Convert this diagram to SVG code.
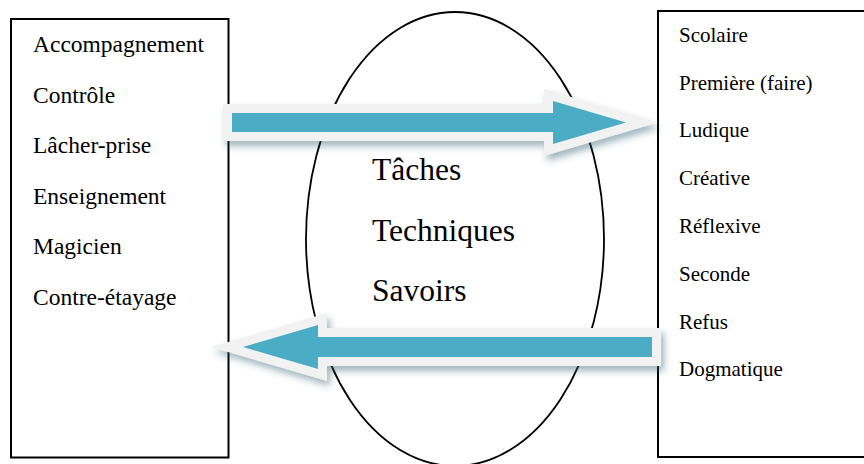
<svg xmlns="http://www.w3.org/2000/svg" width="864" height="464" viewBox="0 0 864 464">
<defs>
<style>
.box{fill:#fff;stroke:#000;stroke-width:2}
.ell{fill:#fff;stroke:#000;stroke-width:1.8}
.t{font-family:"Liberation Serif","Times New Roman",serif;fill:#000}
.l{font-size:23.5px}
.r{font-size:21px}
.c{font-size:31.5px}
.arrow{fill:#4BACC6;stroke:#F2F2F2;stroke-width:18;stroke-linejoin:miter;stroke-miterlimit:6;paint-order:stroke;filter:url(#sh)}
</style>
<filter id="sh" x="-10%" y="-60%" width="125%" height="220%">
<feDropShadow dx="3" dy="5" stdDeviation="3.5" flood-color="#2f5f70" flood-opacity="0.45"/>
</filter>
</defs>
<g id="left-box">
<rect class="box" x="11" y="19" width="217.5" height="438.5"/>
<text class="t l" x="33" y="52">Accompagnement</text>
<text class="t l" x="33" y="102.5">Contrôle</text>
<text class="t l" x="33" y="153">Lâcher-prise</text>
<text class="t l" x="33" y="203.5">Enseignement</text>
<text class="t l" x="33" y="254">Magicien</text>
<text class="t l" x="33" y="304.5">Contre-étayage</text>
</g>
<g id="right-box">
<rect class="box" x="658" y="11" width="220" height="446"/>
<text class="t r" x="679" y="42">Scolaire</text>
<text class="t r" x="679" y="89.5">Première (faire)</text>
<text class="t r" x="679" y="137">Ludique</text>
<text class="t r" x="679" y="185">Créative</text>
<text class="t r" x="679" y="233">Réflexive</text>
<text class="t r" x="679" y="281">Seconde</text>
<text class="t r" x="679" y="329">Refus</text>
<text class="t r" x="679" y="376">Dogmatique</text>
</g>
<g id="center-ellipse">
<ellipse class="ell" cx="455" cy="239" rx="149" ry="227"/>
<text class="t c" x="372" y="180">Tâches</text>
<text class="t c" x="372" y="241">Techniques</text>
<text class="t c" x="372" y="301">Savoirs</text>
</g>
<g id="connectors">
<polygon class="arrow" points="232,113 553,113 553,101 626,122.5 553,144 553,132 232,132"/>
<polygon class="arrow" points="652,337 318,337 318,325 243,347 318,369 318,357 652,357"/>
</g>
</svg>
